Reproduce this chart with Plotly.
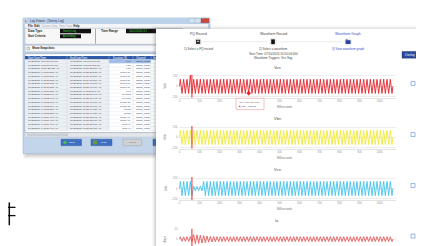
import plotly.graph_objects as go

W, H = 424, 246
FONT = "Liberation Sans"

# ---------------- waveform data ----------------
ms_ticks = [0, 100, 200, 300, 400, 500, 600, 700, 800, 900, 1000]
ms_tick_labels = ["0", "100", "200", "300", "400", "500", "600", "700", "800", "900", "1000"]
# on Van the hover tooltip hides the 300 and 400 labels
van_tick_labels = ["0", "100", "200", "", "", "500", "600", "700", "800", "900", "1000"]
volt_ticks = [-250, 0, 250]
amp_ticks = [-10, 0, 10]
line_hz = 60

# peak value of each 60 Hz cycle (64 cycles shown)
van_amp = [
    170, 170, 170, 170, 170, 170, 170, 170, 170, 170, 170, 170, 170, 170, 170, 170,
    170, 170, 170, 170, 170, 170, 170, 170, 170, 170, 170, 170, 170, 170, 170, 170,
    170, 170, 170, 170, 170, 170, 170, 170, 170, 170, 170, 170, 170, 170, 170, 170,
    170, 170, 170, 170, 170, 170, 170, 170, 170, 170, 170, 170, 170, 170, 170, 170,
]
van_spike_cycle = 3
van_spike_peak = 268
vbn_amp = [
    172, 172, 172, 172, 172, 172, 172, 172, 172, 172, 172, 172, 172, 172, 172, 172,
    172, 172, 172, 172, 172, 172, 172, 172, 172, 172, 172, 172, 172, 172, 172, 172,
    172, 172, 172, 172, 172, 172, 172, 172, 172, 172, 172, 172, 172, 172, 172, 172,
    172, 172, 172, 172, 172, 172, 172, 172, 172, 172, 172, 172, 172, 172, 172, 172,
]
vcn_amp = [
    170, 170, 170, 170, 55, 50, 58, 170, 170, 170, 170, 170, 170, 170, 170, 170,
    170, 170, 170, 170, 170, 170, 170, 170, 170, 170, 170, 170, 170, 170, 170, 170,
    170, 170, 170, 170, 170, 170, 170, 170, 170, 170, 170, 170, 170, 170, 170, 170,
    170, 170, 170, 170, 170, 170, 170, 170, 170, 170, 170, 170, 170, 170, 170, 170,
]
ia_amp = [
    2.3, 2.3, 2.4, 2.6, 4.6, 4.4, 4.0, 3.6, 3.2, 2.9, 2.7, 2.5, 2.5, 2.5, 2.5, 2.5,
    2.5, 2.5, 2.5, 2.5, 2.5, 2.5, 2.5, 2.5, 2.5, 2.5, 2.5, 2.5, 2.5, 2.5, 2.5, 2.5,
    2.5, 2.5, 2.5, 2.5, 2.5, 2.5, 2.5, 2.5, 2.5, 2.5, 2.5, 2.5, 2.5, 2.5, 2.5, 2.5,
    2.5, 2.5, 2.5, 2.5, 2.5, 2.5, 2.5, 2.5, 2.5, 2.5, 2.5, 2.5, 2.5, 2.5, 2.5, 2.5,
]
event_ms = 62
hover_ms = 345.8
hover_val = -163.37

# ---------------- log viewer table data ----------------
start_times = [
    "10/21/2016 3:16:27.699 PM", "10/21/2016 3:16:27.699 PM", "10/21/2016 10:26:28.020 AM",
    "10/21/2016 1:48:23.818 AM", "10/21/2016 1:48:23.818 AM", "10/21/2016 1:48:23.838 AM",
    "10/21/2016 1:48:23.838 AM", "10/21/2016 1:48:23.838 AM", "10/21/2016 1:48:23.838 AM",
    "10/21/2016 1:48:22.040 AM", "10/21/2016 1:48:22.040 AM", "10/21/2016 1:48:22.060 AM",
    "10/21/2016 1:48:22.060 AM", "10/21/2016 1:48:22.320 AM", "10/21/2016 1:48:22.320 AM",
    "10/21/2016 1:48:21.400 AM", "10/21/2016 1:48:21.400 AM", "10/21/2016 1:48:21.400 AM",
    "10/21/2016 1:48:21.400 AM",
]
end_times = [
    "10/21/2016 3:16:27.699 PM", "10/21/2016 3:16:27.998 PM", "10/21/2016 10:26:28.519 AM",
    "10/21/2016 10:25:23.818 AM", "10/21/2016 10:24:17.819 AM", "10/21/2016 10:24:17.819 AM",
    "10/21/2016 10:23:43.019 AM", "10/21/2016 10:23:43.019 AM", "10/21/2016 1:48:23.840 AM",
    "10/21/2016 10:25:36.943 AM", "10/21/2016 10:25:36.943 AM", "10/21/2016 10:23:45.779 AM",
    "10/21/2016 10:23:45.779 AM", "10/21/2016 10:23:04.929 AM", "10/21/2016 10:23:04.929 AM",
    "10/21/2016 10:23:32.969 AM", "10/21/2016 10:23:32.969 AM", "10/21/2016 10:23:35.990 AM",
    "10/21/2016 10:23:35.990 AM",
]
durations = [
    "0.01", "0.27", "0.55", "91001.01", "91007.97", "91007.97", "91009.09", "91009.09",
    "1.09", "91408.2", "91408.2", "91023.38", "91023.38", "91002", "91002",
    "91011.43", "91011.43", "91014.6", "91014.6",
]
channels = ["120kb_PQ24"] * 19
table_headers = ["Start Date/Time", "End Date/Time", "Duration (S)", "Channel", "Se"]


# ---------------- helpers ----------------
def X(px):
    return px / W


def Y(py):
    return 1 - py / H


shapes = []
annotations = []


def rect(x0, y0, x1, y1, fill, line="rgba(0,0,0,0)", lw=0, layer="below"):
    shapes.append(dict(type="rect", xref="paper", yref="paper",
                       x0=X(x0), x1=X(x1), y0=Y(y1), y1=Y(y0),
                       fillcolor=fill, line=dict(color=line, width=lw), layer=layer))


def seg(x0, y0, x1, y1, color, lw=0.5, layer="below"):
    shapes.append(dict(type="line", xref="paper", yref="paper",
                       x0=X(x0), x1=X(x1), y0=Y(y0), y1=Y(y1),
                       line=dict(color=color, width=lw), layer=layer))


def circle(cx, cy, r, fill, layer="below"):
    shapes.append(dict(type="circle", xref="paper", yref="paper",
                       x0=X(cx - r), x1=X(cx + r), y0=Y(cy + r), y1=Y(cy - r),
                       fillcolor=fill, line=dict(width=0), layer=layer))


def text(x, y, s, size=3.5, color="#333", anchor="center", angle=0, family=FONT):
    annotations.append(dict(x=X(x), y=Y(y), xref="paper", yref="paper", text=s,
                            showarrow=False, xanchor=anchor, yanchor="middle",
                            textangle=angle, borderpad=0,
                            font=dict(size=size, color=color, family=family)))


# ================= Log viewer window =================
for i, a in enumerate([0.05, 0.05, 0.06, 0.07]):
    rect(15 + i, 140 + i, 150 + 2 * (3 - i), 151 - i, f"rgba(60,60,60,{a})")
rect(15, 9, 202, 146, "#c3d5ea", "#93a9c4", 0.5)
rect(15, 9, 202, 15, "#bcd1ea")
text(18, 12, "■", 3, "#d08a2a")
text(21, 12, "Log Viewer - [Sentry Log]", 3, "#333", "left")
rect(181, 9.5, 187, 14, "#d3e1f1", "#8aa", 0.3)
rect(187, 9.5, 193, 14, "#d3e1f1", "#8aa", 0.3)
rect(193, 9.5, 201, 14, "#c9483b", "#844", 0.3)
# menu bar
rect(17, 15, 200, 19.3, "#f4f5f7")
text(19, 17.2, "<b>File  Edit</b>  <span style='color:#aaa'>Column Data  View Data</span>  <b>Help</b>",
     2.8, "#222", "left")
# header area
rect(17, 19.3, 200, 35.5, "#f7f7f7", "#9aa6b5", 0.4)
seg(87.5, 20, 87.5, 35, "#777", 0.6)
text(19, 22.2, "<b>Data Type</b>", 3, "#222", "left")
rect(52, 20, 83, 24.5, "#111")
text(54, 22.2, "Sentry Log", 2.7, "#3dd63d", "left")
text(19, 27.5, "<b>Sort Criteria</b>", 3, "#222", "left")
rect(52, 25.5, 73, 29.5, "#111")
text(54, 27.5, "Ascending", 2.7, "#3dd63d", "left")
text(92, 22.2, "<b>Time Range</b>", 3, "#222", "left")
rect(118, 20, 175, 24.5, "#111")
text(120, 22.2, "10/21/2016 3:1", 2.7, "#3dd63d", "left")
# snapshot row
rect(17, 36.5, 200, 43.2, "#f7f7f7", "#9aa6b5", 0.4)
rect(19, 38.6, 21.4, 41, "#fff", "#555", 0.4)
text(23, 39.8, "<b>Show Snapshots</b>", 2.8, "#222", "left")
# table
rect(17, 45, 200, 124.5, "#ffffff", "#7f8fa5", 0.5)
rect(17, 47.5, 200, 51, "#2f5aa8")
col_left = [18.5, 60.5, 104, 126.5, 144]
for cx, h in zip(col_left, table_headers):
    text(cx, 49.3, h, 2.6, "#ffffff", "left")
row_h = 3.75
row0 = 51
rect(17, row0, 101, row0 + row_h * len(durations), "#eceff4")
rect(101, row0, 143, row0 + row_h, "#9fbdea")
for i in range(len(durations) + 1):
    seg(17, row0 + i * row_h, 200, row0 + i * row_h, "#d7dce5", 0.35)
for cxl in [59, 101, 125, 143]:
    seg(cxl, 47.5, cxl, row0 + row_h * len(durations), "#c7cfdb", 0.4)
for i in range(len(durations)):
    cy = row0 + (i + 0.5) * row_h
    text(18.5, cy, start_times[i], 2.45, "#3b3b3b", "left")
    text(60.5, cy, end_times[i], 2.45, "#3b3b3b", "left")
    text(123.8, cy, durations[i], 2.45, "#3b3b3b", "right")
    text(126.5, cy, channels[i], 2.45, "#3b3b3b", "left")
# scrollbar
rect(17, 124.8, 200, 129, "#e4e6ea", "#b5bcc7", 0.3)
rect(19, 125.5, 60, 128.3, "#c9ced6")
# buttons
rect(53, 131.3, 73.5, 137.8, "#3f6fc2", "#2b4f8f", 0.4)
circle(57, 134.5, 1.7, "#4cbf4c")
text(64.5, 134.5, "Open", 2.4, "#fff", "center")
rect(83, 131.3, 104, 137.8, "#3f6fc2", "#2b4f8f", 0.4)
rect(85, 132.5, 89, 136.5, "#6c9a3e")
text(96, 134.5, "Load", 2.4, "#fff", "center")
rect(115, 131.3, 133.5, 137.8, "#cfd1d5", "#999", 0.4)
text(124.5, 134.5, "Export", 2.4, "#777", "center")
rect(145, 131.3, 160, 137.8, "#3f6fc2", "#2b4f8f", 0.4)

# "#"-like glyph at left
seg(1.3, 195, 1.3, 218, "#111", 1.5)
seg(0, 200, 7.5, 200, "#111", 1.3)
seg(0, 208.3, 7.5, 208.3, "#111", 1.3)

# ================= Waveform panel =================
for i, a in enumerate([0.04, 0.05, 0.07, 0.09]):
    rect(144 + i, 17 + i, 421 - i, 246, f"rgba(70,70,70,{a})")
rect(148, 20, 416, 246, "#ffffff")

# stepper header
seg(195, 33, 259, 33, "#dddddd", 0.6)
seg(271, 33, 334, 33, "#dddddd", 0.6)
text(190, 25, "PQ Record", 3.4, "#444")
text(265, 25, "Waveform Record", 3.4, "#444")
text(340, 25, "Waveform Graph", 3.4, "#3552c8")
circle(190, 33, 4, "#eeeeee")
rect(188, 31, 192.2, 35.2, "#2b2b2b")
rect(189, 32, 191.2, 33.3, "#bbbbbb")
circle(265, 33, 4, "#eeeeee")
rect(263.2, 30.6, 266.8, 35.4, "#111111")
circle(340, 33, 4, "#eeeeee")
rect(337.6, 31.5, 342.6, 35.2, "#27409c")
rect(337.6, 30.8, 339.8, 31.6, "#27409c")
text(190, 40.3, "1) Select a PQ record", 3, "#444")
text(265, 40.3, "2) Select a waveform", 3, "#444")
text(265, 45, "Start Time: 07/10/2020 10:50:04:000", 3, "#444")
text(265, 49.7, "Waveform Triggers: Vcn Sag", 3, "#444")
text(340, 40.3, "3) View waveform graph", 3, "#3552c8")
rect(394, 42.8, 410, 49.6, "#2c4a98", "#1d3370", 0.4)
text(402, 46.2, "Overlay", 2.8, "#ffffff")

# subplot geometry (pixels)
plot_centers = [78, 129.5, 181, 232]
plot_half = [11.5, 11.5, 11.5, 10.8]
titles = ["Van", "Vbn", "Vcn", "Ia"]
title_y = [59, 110.5, 162, 213]
for t, ty in zip(titles, title_y):
    text(269, ty, t, 4, "#555")
for c in plot_centers:
    rect(403, c - 5, 407, c - 1, "rgba(0,0,0,0)", "#5a86d6", 0.6)
for c, lab in zip(plot_centers, ["Volts", "Volts", "Volts", "Amps"]):
    text(157.5, c, lab, 2.6, "#777", angle=-90)
for c in plot_centers[:3]:
    text(277, c + 20.3, "Milliseconds", 2.8, "#777")


# ================= traces =================
def zigzag(amps, spike_cycle=None, spike_peak=None):
    period = 1000 / line_hz
    xs, ys = [0], [0]
    for i, a in enumerate(amps):
        top = spike_peak if i == spike_cycle else a
        xs += [(i + 0.25) * period, (i + 0.75) * period]
        ys += [top, -a]
    xs.append(len(amps) * period)
    ys.append(0)
    return xs, ys


series = [
    (zigzag(van_amp, van_spike_cycle, van_spike_peak), "#e8212a"),
    (zigzag(vbn_amp), "#f2ea36"),
    (zigzag(vcn_amp), "#43c3ee"),
    (zigzag(ia_amp), "#e8595a"),
]
fig = go.Figure()
for k, ((xs, ys), col) in enumerate(series):
    ax = "" if k == 0 else str(k + 1)
    fig.add_trace(go.Scatter(x=xs, y=ys, mode="lines", xaxis="x" + ax, yaxis="y" + ax,
                             line=dict(color=col, width=0.9), hoverinfo="skip"))
    lim = 11 if k == 3 else 275
    fig.add_trace(go.Scatter(x=[event_ms, event_ms], y=[-lim, lim], mode="lines",
                             xaxis="x" + ax, yaxis="y" + ax,
                             line=dict(color="rgba(235,60,55,0.85)", width=1.3), hoverinfo="skip"))

# hover marker + tooltip on Van
fig.add_trace(go.Scatter(x=[hover_ms], y=[hover_val], mode="markers", xaxis="x", yaxis="y",
                         marker=dict(color="#e8212a", size=3.5, symbol="diamond"), hoverinfo="skip"))
rect(228, 90, 256, 101.5, "#ffffff", "#e49a9a", 0.6, layer="above")
text(230, 93.3, "Van (Volts) 345.8 ms", 2.2, "#555", "left")
text(230, 98.2, "<span style='color:#e8212a'>■</span> Van : -163.37", 2.5, "#333", "left")

layout_axes = {}
for k, c in enumerate(plot_centers):
    ax = "" if k == 0 else str(k + 1)
    ticks = amp_ticks if k == 3 else volt_ticks
    lim = 11 if k == 3 else 275
    layout_axes["xaxis" + ax] = dict(
        domain=[X(170.5), X(387.5)], range=[-5, 1080], anchor="y" + ax,
        tickvals=ms_ticks, ticktext=van_tick_labels if k == 0 else ms_tick_labels,
        ticks="", showgrid=False, zeroline=False,
        showticklabels=(k < 3),
        showline=True, linecolor="#e3e3e3", linewidth=0.6,
        tickfont=dict(size=2.8, color="#999", family=FONT))
    layout_axes["yaxis" + ax] = dict(
        domain=[Y(c + plot_half[k]), Y(c - plot_half[k])], range=[-lim, lim], anchor="x" + ax,
        tickvals=ticks, ticks="", showgrid=True, gridcolor="#ededed", gridwidth=0.5,
        zeroline=False, showline=False,
        tickfont=dict(size=2.8, color="#999", family=FONT))

fig.update_layout(
    width=W, height=H, margin=dict(l=0, r=0, t=0, b=0),
    paper_bgcolor="#ffffff", plot_bgcolor="rgba(0,0,0,0)",
    showlegend=False, hovermode=False,
    shapes=shapes, annotations=annotations,
    font=dict(family=FONT),
    **layout_axes,
)
fig.write_html("out.html")
